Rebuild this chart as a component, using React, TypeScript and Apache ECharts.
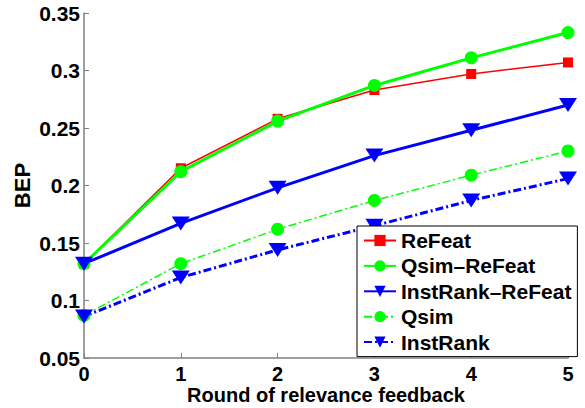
import React, { useEffect, useRef } from "react";
import * as echarts from "echarts";

const rounds = ["0", "1", "2", "3", "4", "5"];
const reFeat = [0.132, 0.215, 0.258, 0.283, 0.297, 0.307];
const qsimReFeat = [0.132, 0.212, 0.256, 0.287, 0.311, 0.333];
const instRankReFeat = [0.132, 0.167, 0.198, 0.226, 0.248, 0.27];
const qsim = [0.087, 0.132, 0.162, 0.187, 0.209, 0.23];
const instRank = [0.086, 0.12, 0.144, 0.165, 0.187, 0.206];
const seriesNames = ["ReFeat", "Qsim\u2013ReFeat", "InstRank\u2013ReFeat", "Qsim", "InstRank"];

const FONT = "'Liberation Sans', Arial, sans-serif";

export default function App() {
  const ref = useRef<HTMLDivElement>(null);
  useEffect(() => {
    const chart = echarts.init(ref.current!, null, { renderer: "svg" });
    const mk = (name: string, data: number[], color: string, width: number, dash: any, symbol: string, size: any, rotate = 0) => ({
      name,
      type: "line",
      data,
      symbol,
      symbolSize: size,
      symbolRotate: rotate,
      showAllSymbol: true,
      itemStyle: { color, borderWidth: 0 },
      lineStyle: { color, width, type: dash },
      emphasis: { disabled: true },
    });
    chart.setOption({
      animation: false,
      backgroundColor: "#fff",
      grid: { left: 84, right: 17, top: 13, bottom: 50, containLabel: false, outerBoundsMode: "none" },
      xAxis: {
        type: "category",
        data: rounds,
        boundaryGap: false,
        name: "Round of relevance feedback",
        nameLocation: "middle",
        nameGap: 27,
        nameMoveOverlap: false,
        nameTextStyle: { color: "#000", fontWeight: "bold", fontSize: 20, lineHeight: 20, fontFamily: FONT },
        axisLine: { lineStyle: { color: "#808080", width: 1.5 } },
        axisTick: { inside: true, length: 5, lineStyle: { color: "#808080" } },
        axisLabel: { color: "#000", fontWeight: "bold", fontSize: 20, lineHeight: 20, fontFamily: FONT, margin: 6 },
        splitLine: { show: false },
      },
      yAxis: {
        type: "value",
        min: 0.05,
        max: 0.35,
        interval: 0.05,
        name: "BEP",
        nameLocation: "middle",
        nameGap: 51,
        nameMoveOverlap: false,
        nameTextStyle: { color: "#000", fontWeight: "bold", fontSize: 22, fontFamily: FONT },
        axisLine: { show: true, lineStyle: { color: "#808080", width: 1.5 } },
        axisTick: { show: true, inside: true, length: 5, lineStyle: { color: "#808080" } },
        axisLabel: { color: "#000", fontWeight: "bold", fontSize: 21, fontFamily: FONT, margin: 4 },
        splitLine: { show: false },
      },
      legend: {
        orient: "vertical",
        left: 357,
        top: 226,
        padding: [4, 6, 4, 6],
        itemGap: 4.4,
        itemWidth: 32,
        itemHeight: 14,
        backgroundColor: "#fff",
        borderColor: "#000",
        borderWidth: 1,
        borderRadius: 0,
        textStyle: { color: "#000", fontWeight: "bold", fontSize: 21, lineHeight: 21, fontFamily: FONT },
        data: seriesNames,
      },
      series: [
        mk(seriesNames[0], reFeat, "#ff0000", 1.5, "solid", "rect", 10),
        mk(seriesNames[1], qsimReFeat, "#00ff00", 3, "solid", "circle", 13),
        mk(seriesNames[2], instRankReFeat, "#0000ff", 3, "solid", "triangle", [18, 14], 180),
        mk(seriesNames[3], qsim, "#00ff00", 1.5, [8, 3, 2, 3], "circle", 13),
        mk(seriesNames[4], instRank, "#0000ff", 3, [8, 3, 2, 3], "triangle", [18, 14], 180),
      ],
    });
    return () => chart.dispose();
  }, []);
  return <div ref={ref} style={{ width: 585, height: 408, position: "absolute", left: 0, top: 0 }} />;
}
